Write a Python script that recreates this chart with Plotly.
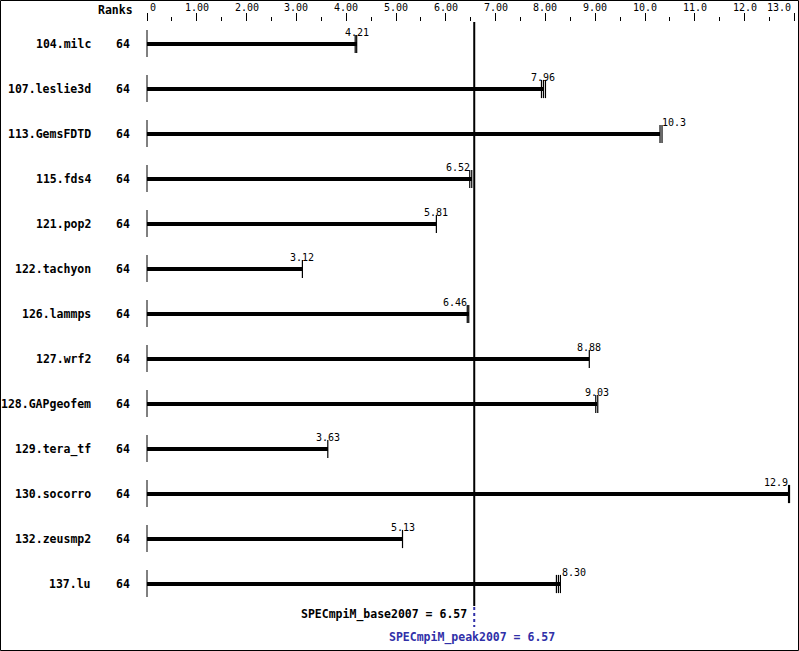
import plotly.graph_objects as go

# ---------------- data ----------------
benchmarks = ["104.milc", "107.leslie3d", "113.GemsFDTD", "115.fds4", "121.pop2",
              "122.tachyon", "126.lammps", "127.wrf2", "128.GAPgeofem", "129.tera_tf",
              "130.socorro", "132.zeusmp2", "137.lu"]
ranks = [64, 64, 64, 64, 64, 64, 64, 64, 64, 64, 64, 64, 64]
base_ratios = [4.21, 7.96, 10.3, 6.52, 5.81, 3.12, 6.46, 8.88, 9.03, 3.63, 12.9, 5.13, 8.30]
ratio_labels = ["4.21", "7.96", "10.3", "6.52", "5.81", "3.12", "6.46", "8.88", "9.03",
                "3.63", "12.9", "5.13", "8.30"]
run_ratios = [[4.18, 4.21], [7.92, 7.96, 8.00], [10.30, 10.34], [6.48, 6.52], [5.81],
              [3.12], [6.43, 6.46], [8.88], [9.01, 9.05], [3.63], [12.88, 12.90],
              [5.13], [8.22, 8.26, 8.30]]
spec_base = 6.57
spec_peak = 6.57
tick_values = [0, 1, 2, 3, 4, 5, 6, 7, 8, 9, 10, 11, 12, 13]
tick_labels = ["0", "1.00", "2.00", "3.00", "4.00", "5.00", "6.00", "7.00", "8.00",
               "9.00", "10.0", "11.0", "12.0", "13.0"]
minor_values = [0.5, 1.5, 2.5, 3.5, 4.5, 5.5, 6.5, 7.5, 8.5, 9.5, 10.5, 11.5, 12.5]

# label placement style (not data)
label_anchor = ["center", "center", "left", "right", "center", "center", "right",
                "center", "center", "center", "right", "center", "left"]

# ---------------- layout geometry ----------------
W, H = 799, 651
L, R, T, B = 146, 3, 22, 21
PW, PH = W - L - R, H - T - B
ROW_PX = 45.0
FIRST_ROW_PX = 44.0


def py(p):
    """pixel row -> y data coordinate"""
    return (p - FIRST_ROW_PX) / ROW_PX


def paper_x(p):
    return (p - L) / PW


def paper_y(p):
    return (H - B - p) / PH


rows = list(range(len(benchmarks)))
mono = "DejaVu Sans Mono"
blue = "#3030a8"

fig = go.Figure()

# bars
fig.add_trace(go.Bar(
    x=base_ratios, y=rows, orientation="h", width=4 / ROW_PX,
    marker=dict(color="black", line=dict(width=0)), hoverinfo="skip"))

# row start lines at x = 0
sx, sy = [], []
for i in rows:
    sx += [0, 0, None]
    sy += [i - 14 / ROW_PX, i + 13 / ROW_PX, None]
fig.add_trace(go.Scatter(x=sx, y=sy, mode="lines",
                         line=dict(color="black", width=1), hoverinfo="skip"))

# individual run marks
mx, my = [], []
for i, runs in zip(rows, run_ratios):
    for r in runs:
        mx.append(r)
        my.append(i)
fig.add_trace(go.Scatter(x=mx, y=my, mode="markers", cliponaxis=False,
                         marker=dict(symbol="line-ns", size=13,
                                     line=dict(width=1.2, color="black")),
                         hoverinfo="skip"))

shapes = [
    dict(type="line", xref="x", yref="y", x0=spec_base, x1=spec_base,
         y0=py(T), y1=py(606), line=dict(color="black", width=2)),
    dict(type="line", xref="x", yref="y", x0=spec_peak, x1=spec_peak,
         y0=py(607), y1=py(627), line=dict(color=blue, width=2, dash="dot")),
    dict(type="rect", xref="paper", yref="paper",
         x0=paper_x(0.5), x1=paper_x(W - 0.5), y0=paper_y(H - 0.5), y1=paper_y(0.5),
         line=dict(color="black", width=1), fillcolor="rgba(0,0,0,0)"),
]

ann = []
# row labels and ranks
for i, name, rk in zip(rows, benchmarks, ranks):
    ann.append(dict(text="<b>%s</b>" % name, xref="paper", yref="y",
                    x=paper_x(93), y=i, xanchor="right", yanchor="middle",
                    showarrow=False, font=dict(family=mono, size=11.5, color="black")))
    ann.append(dict(text="<b>%d</b>" % rk, xref="paper", yref="y",
                    x=paper_x(132), y=i, xanchor="right", yanchor="middle",
                    showarrow=False, font=dict(family=mono, size=11.5, color="black")))
ann.append(dict(text="<b>Ranks</b>", xref="paper", yref="paper",
                x=paper_x(135), y=paper_y(10), xanchor="right", yanchor="middle",
                showarrow=False, font=dict(family=mono, size=11.5, color="black")))

# tick labels
last_tick = tick_values[-1]
for v, t in zip(tick_values, tick_labels):
    if v == 0:
        anchor, shift = "left", 1
    elif v == last_tick:
        anchor, shift = "right", -2
    else:
        anchor, shift = "center", 0
    ann.append(dict(text=t, xref="x", yref="paper", x=v, y=paper_y(7.5),
                    xanchor=anchor, yanchor="middle", xshift=shift,
                    showarrow=False, font=dict(family=mono, size=10, color="black")))

# value labels
for i, v, t, a in zip(rows, base_ratios, ratio_labels, label_anchor):
    ann.append(dict(text=t, xref="x", yref="y", x=v, y=i, yshift=12,
                    xanchor=a, yanchor="middle", showarrow=False,
                    font=dict(family=mono, size=10, color="black")))

# summary texts
ann.append(dict(text="<b>SPECmpiM_base2007 = %.2f</b>" % spec_base, xref="x", yref="paper",
                x=spec_base, y=paper_y(614), xanchor="right", xshift=-5,
                yanchor="middle", showarrow=False,
                font=dict(family=mono, size=11.5, color="black")))
ann.append(dict(text="<b>SPECmpiM_peak2007 = %.2f</b>" % spec_peak, xref="x", yref="paper",
                x=spec_peak, y=paper_y(637), xanchor="center", xshift=-2,
                yanchor="middle", showarrow=False,
                font=dict(family=mono, size=11.5, color=blue)))

fig.update_layout(
    width=W, height=H, margin=dict(l=L, r=R, t=T, b=B, pad=0),
    paper_bgcolor="white", plot_bgcolor="white", showlegend=False,
    shapes=shapes, annotations=ann, bargap=0,
    xaxis=dict(side="top", range=[-0.02, 13.03], tickvals=tick_values,
               showticklabels=False, ticks="outside", ticklen=8, tickwidth=1,
               tickcolor="black", showgrid=False, zeroline=False, showline=False,
               minor=dict(tickvals=minor_values, ticks="outside", ticklen=4,
                          tickwidth=1, tickcolor="black", showgrid=False),
               fixedrange=True),
    yaxis=dict(range=[py(H - B), py(T)], visible=False, fixedrange=True),
)

fig.write_html("out.html", config={"displayModeBar": False},
               post_script="document.body.style.margin='0';document.body.style.overflow='hidden';")
